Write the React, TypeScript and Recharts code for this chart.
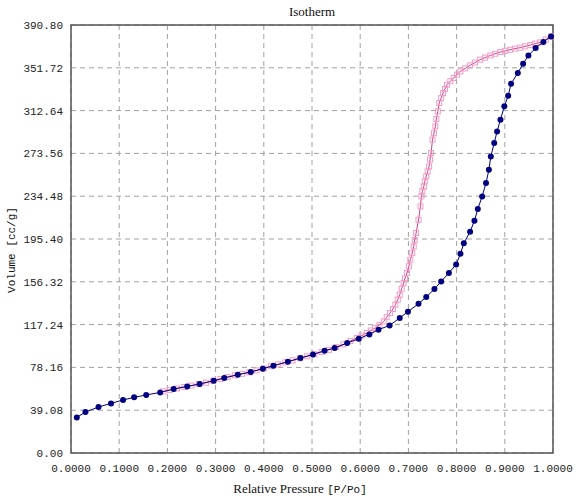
import { CartesianGrid, ReferenceArea, Scatter, ScatterChart, XAxis, YAxis } from "recharts";

// adsorption branch (blue, filled dots)
const adsorptionP = [
  0.012, 0.03, 0.057, 0.083, 0.108, 0.131, 0.156, 0.185, 0.213, 0.241, 0.267, 0.296, 0.318, 0.346,
  0.373, 0.398, 0.42, 0.45, 0.476, 0.502, 0.526, 0.547, 0.573, 0.597, 0.619, 0.638, 0.661, 0.682,
  0.699, 0.721, 0.737, 0.754, 0.768, 0.784, 0.799, 0.808, 0.815, 0.828, 0.837, 0.844, 0.853, 0.861,
  0.867, 0.871, 0.878, 0.884, 0.891, 0.899, 0.907, 0.913, 0.927, 0.938, 0.949, 0.964, 0.98, 0.996,
];
const adsorptionV = [
  32.5, 37.4, 42.0, 45.3, 48.4, 50.8, 53.0, 55.3, 58.4, 60.8, 63.0, 66.0, 68.5, 71.5,
  74.0, 77.0, 79.7, 83.4, 86.7, 90.0, 93.4, 95.9, 100.4, 104.4, 108.3, 112.6, 116.5, 123.3,
  129.0, 136.3, 142.4, 149.7, 156.7, 164.3, 172.2, 182.0, 191.5, 202.1, 212.1, 222.8, 234.3, 246.5,
  258.7, 270.8, 283.1, 293.6, 304.3, 316.5, 326.2, 337.2, 347.0, 355.4, 363.0, 369.8, 375.3, 380.4,
];

// desorption branch (pink, open squares)
const desorptionP = [
  0.996, 0.985, 0.974, 0.963, 0.953, 0.942, 0.932, 0.921, 0.911, 0.901, 0.891, 0.88, 0.87, 0.859,
  0.849, 0.838, 0.828, 0.818, 0.808, 0.801, 0.794, 0.787, 0.78, 0.776, 0.772, 0.768, 0.764, 0.761,
  0.758, 0.756, 0.753, 0.75, 0.747, 0.745, 0.743, 0.74, 0.737, 0.734, 0.732, 0.729, 0.727, 0.725,
  0.721, 0.716, 0.713, 0.711, 0.708, 0.704, 0.701, 0.697, 0.693, 0.69, 0.686, 0.682, 0.678, 0.673,
  0.668, 0.662, 0.655, 0.649, 0.64, 0.631, 0.622, 0.614, 0.603, 0.593, 0.58, 0.565, 0.55, 0.535,
  0.52, 0.505, 0.49, 0.475, 0.46, 0.445, 0.43, 0.415, 0.4, 0.385, 0.37, 0.355, 0.34, 0.325,
  0.31, 0.295, 0.28, 0.265, 0.25, 0.235, 0.22, 0.205, 0.192,
];
const desorptionV = [
  380.4, 377.5, 375.0, 373.8, 372.5, 371.3, 370.1, 369.2, 368.2, 367.2, 366.1, 364.6, 363.0, 361.0,
  359.1, 356.5, 353.9, 351.2, 348.4, 345.5, 342.4, 339.5, 336.3, 332.5, 328.7, 324.0, 319.6, 311.9,
  305.0, 298.2, 292.0, 286.1, 273.9, 268.0, 261.7, 257.0, 252.6, 248.0, 243.4, 239.0, 234.3, 225.2,
  213.0, 200.9, 194.5, 188.6, 182.5, 176.5, 170.5, 164.3, 159.5, 155.2, 150.0, 144.5, 140.0, 135.4,
  131.5, 127.8, 124.0, 120.2, 117.0, 114.1, 111.8, 109.6, 107.2, 105.0, 102.3, 99.2, 96.6, 94.2,
  92.3, 90.1, 88.3, 86.5, 84.6, 82.8, 81.0, 79.2, 77.2, 75.4, 73.6, 72.3, 70.9, 69.3,
  67.6, 65.9, 64.2, 62.9, 61.6, 60.3, 58.9, 57.6, 56.3,
];

const xTicks = [0, 0.1, 0.2, 0.3, 0.4, 0.5, 0.6, 0.7, 0.8, 0.9, 1];
const yTicks = [0, 39.08, 78.16, 117.24, 156.32, 195.4, 234.48, 273.56, 312.64, 351.72, 390.8];

const adsorption = adsorptionP.map((p, i) => ({ p, v: adsorptionV[i] }));
const desorption = desorptionP.map((p, i) => ({ p, v: desorptionV[i] }));

const tickStyle = { fontFamily: "Liberation Mono", fontSize: 11, fill: "#222" };

const Dot = (props: any) => <circle cx={props.cx} cy={props.cy} r={3} fill="#000080" />;
const Square = (props: any) => (
  <rect x={props.cx - 2.5} y={props.cy - 2.5} width={5} height={5} fill="none" stroke="#f49ac8" strokeWidth={1} />
);

export default function App() {
  return (
    <div style={{ position: "absolute", left: 0, top: 0, width: 580, height: 501, background: "#fff" }}>
      <ScatterChart width={580} height={501} margin={{ top: 25, right: 27, left: 0, bottom: 0 }}>
        <CartesianGrid stroke="#a0a0a0" strokeDasharray="5 4" />
        <XAxis
          dataKey="p"
          type="number"
          domain={[0, 1]}
          ticks={xTicks}
          tickFormatter={(v) => v.toFixed(4)}
          tickLine={false}
          axisLine={false}
          tickMargin={5}
          height={48}
          tick={tickStyle}
          interval={0}
        />
        <YAxis
          dataKey="v"
          type="number"
          domain={[0, 390.8]}
          ticks={yTicks}
          tickFormatter={(v) => v.toFixed(2)}
          tickLine={false}
          axisLine={false}
          width={71}
          tick={tickStyle}
          interval={0}
        />
        <ReferenceArea x1={0} x2={1} y1={0} y2={390.8} fill="none" stroke="#555" strokeWidth={1.5} />
        <Scatter
          data={desorption}
          line={{ stroke: "#c8407c", strokeWidth: 1 }}
          lineType="joint"
          shape={Square}
          isAnimationActive={false}
        />
        <Scatter
          data={adsorption}
          line={{ stroke: "#000080", strokeWidth: 1 }}
          lineType="joint"
          shape={Dot}
          isAnimationActive={false}
        />
      </ScatterChart>
      <svg width={580} height={501} style={{ position: "absolute", left: 0, top: 0, pointerEvents: "none" }}>
        <text x={312} y={16} textAnchor="middle" fontFamily="Liberation Serif" fontSize={13} fill="#111">
          Isotherm
        </text>
        <text x={300} y={493} textAnchor="middle" fontSize={13} fill="#111">
          <tspan fontFamily="Liberation Serif">Relative Pressure </tspan>
          <tspan fontFamily="Liberation Mono" fontSize={11}>[P/Po]</tspan>
        </text>
        <text
          x={0}
          y={0}
          transform="translate(15 250) rotate(-90)"
          textAnchor="middle"
          fontFamily="Liberation Mono"
          fontSize={11}
          fill="#111"
        >
          Volume [cc/g]
        </text>
      </svg>
    </div>
  );
}
